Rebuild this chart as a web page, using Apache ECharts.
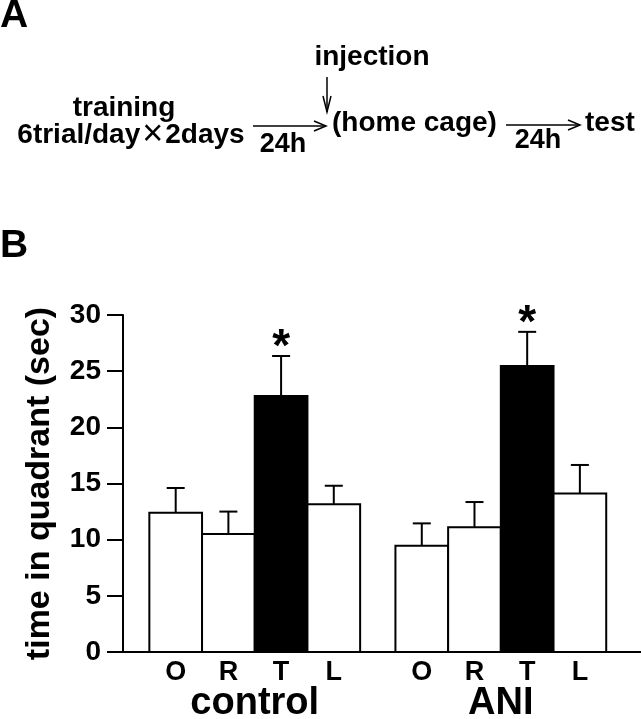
<!DOCTYPE html>
<html><head><meta charset="utf-8">
<script src="https://cdn.jsdelivr.net/npm/echarts@6/dist/echarts.min.js"></script>
<style>html,body{margin:0;padding:0;background:#fff}#c{width:641px;height:719px}</style>
</head><body><div id="c"></div>
<script>
// ---- data ----
const groups = ['control', 'ANI'];
const quadrants = ['O', 'R', 'T', 'L'];
const controlMean = [12.4, 10.5, 22.8, 13.15];
const controlSem = [2.2, 2.0, 3.55, 1.65];
const aniMean = [9.45, 11.1, 25.45, 14.1];
const aniSem = [2.0, 2.25, 3.05, 2.55];
const controlSig = ['', '', '*', ''];
const aniSig = ['', '', '*', ''];
const yMin = 0, yMax = 30, yStep = 5;

// ---- layout helpers ----
const FONT = '"Liberation Sans", Arial, Helvetica, sans-serif';
const groupStride = 4.67;
const means = [controlMean, aniMean];
const sems = [controlSem, aniSem];
const sigs = [controlSig, aniSig];

const items = [];
groups.forEach((g, gi) => {
  quadrants.forEach((q, qi) => {
    items.push({ pos: gi * groupStride + qi, mean: means[gi][qi], sem: sems[gi][qi], q: q, sig: sigs[gi][qi] });
  });
});
const groupItems = groups.map((g, gi) => ({ pos: gi * groupStride + (quadrants.length - 1) / 2, name: g }));

function renderBar(params, api) {
  const it = items[params.dataIndex];
  const x = api.value(0), m = api.value(1), e = api.value(2);
  const base = api.coord([x, 0]);
  const top = api.coord([x, m]);
  const errTop = api.coord([x, m + e]);
  const w = api.size([1, 0])[0];
  const children = [
    { type: 'rect', shape: { x: base[0] - w / 2, y: top[1], width: w, height: base[1] - top[1] },
      style: { fill: it.q === 'T' ? '#000' : '#fff', stroke: '#000', lineWidth: 2 } },
    { type: 'line', shape: { x1: top[0], y1: top[1], x2: errTop[0], y2: errTop[1] },
      style: { stroke: '#000', lineWidth: 2 } },
    { type: 'line', shape: { x1: errTop[0] - 9, y1: errTop[1], x2: errTop[0] + 9, y2: errTop[1] },
      style: { stroke: '#000', lineWidth: 2 } },
    { type: 'text', x: base[0], y: base[1] + 21,
      style: { text: it.q, fontSize: 27, fontWeight: 'bold', fontFamily: FONT, fill: '#000', align: 'center', verticalAlign: 'middle' } }
  ];
  if (it.sig) {
    children.push({ type: 'text', x: errTop[0], y: errTop[1] - 8,
      style: { text: it.sig, fontSize: 46, fontWeight: 'bold', fontFamily: FONT, fill: '#000', align: 'center', verticalAlign: 'middle' } });
  }
  return { type: 'group', children: children };
}

function renderGroup(params, api) {
  const g = groupItems[params.dataIndex];
  const c = api.coord([api.value(0), 0]);
  return { type: 'text', x: c[0], y: c[1] + 52,
    style: { text: g.name, fontSize: 38, fontWeight: 'bold', fontFamily: FONT, fill: '#000', align: 'center', verticalAlign: 'middle' } };
}

const txt = (t, x, y, fs, align, extra) => Object.assign({
  type: 'text', x: x, y: y,
  style: Object.assign({ text: t, fontSize: fs, fontWeight: 'bold', fontFamily: FONT, fill: '#000', align: align || 'left', verticalAlign: 'middle' }, extra || {})
});
const ln = (pts) => ({ type: 'polyline', shape: { points: pts }, style: { stroke: '#000', lineWidth: 1.5, fill: null } });

const chart = echarts.init(document.getElementById('c'), null, { renderer: 'canvas' });
chart.setOption({
  animation: false,
  backgroundColor: '#fff',
  grid: { left: 123, right: 0, top: 315, bottom: 67, containLabel: false, outerBoundsMode: 'none' },
  xAxis: {
    type: 'value', min: -1, max: 8.83,
    axisLine: { show: true, onZero: false, lineStyle: { color: '#000', width: 2 } },
    axisTick: { show: false }, axisLabel: { show: false }, splitLine: { show: false }
  },
  yAxis: {
    type: 'value', min: yMin, max: yMax, interval: yStep,
    axisLine: { show: true, onZero: false, lineStyle: { color: '#000', width: 2 } },
    axisTick: { show: true, inside: false, length: 16, lineStyle: { color: '#000', width: 2 } },
    axisLabel: { margin: 22, fontSize: 28, fontWeight: 'bold', fontFamily: FONT, color: '#000' },
    splitLine: { show: false },
    name: 'time in quadrant (sec)', nameLocation: 'middle', nameGap: 66,
    nameTextStyle: { fontSize: 34, fontWeight: 'bold', fontFamily: FONT, color: '#000' }
  },
  series: [
    { type: 'custom', renderItem: renderBar, clip: false,
      data: items.map(d => [d.pos, d.mean, d.sem]) },
    { type: 'custom', renderItem: renderGroup, clip: false,
      data: groupItems.map(d => [d.pos]) }
  ],
  graphic: [
    txt('A', 0, 16, 39),
    txt('B', 0, 246, 39),
    txt('injection', 372, 57, 28, 'center'),
    txt('training', 124, 108, 28, 'center'),
    { type: 'text', x: 131, y: 135, style: { text: '6trial/day{x|×}2days', fontSize: 28, fontWeight: 'bold', fontFamily: FONT, fill: '#000', align: 'center', verticalAlign: 'middle',
      rich: { x: { fontSize: 36, fontWeight: 'normal', fontFamily: FONT, fill: '#000', padding: [0, 2] } } } },
    txt('24h', 283, 145, 27, 'center'),
    txt('(home cage)', 332, 123, 28, 'left'),
    txt('24h', 538, 141, 27, 'center'),
    txt('test', 585, 123, 28, 'left'),
    ln([[253, 126], [326, 126]]), ln([[314, 121], [326, 126], [314, 131]]),
    ln([[327, 77], [327, 112]]), ln([[323, 96], [327, 112], [331, 96]]),
    ln([[506, 125], [580, 125]]), ln([[568, 120], [580, 125], [568, 130]])
  ]
});
</script></body></html>
